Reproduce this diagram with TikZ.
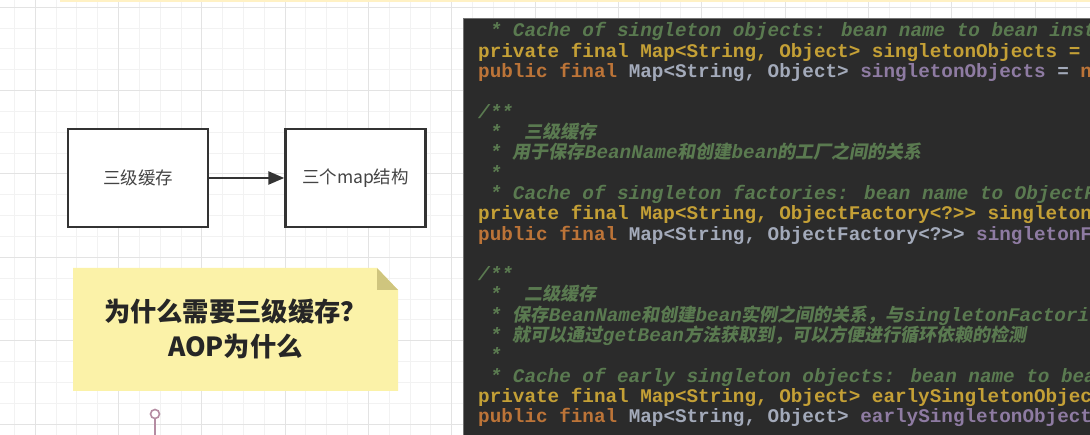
\documentclass[tikz,border=0pt]{standalone}
\usepackage{fontspec}
\usetikzlibrary{arrows.meta}
\newfontfamily\cjk{Noto Sans CJK SC}
\newfontfamily\cjkit[FakeSlant=0.18]{Noto Sans CJK SC}
\newfontfamily\codefont{Liberation Mono}
\newcommand{\zhc}[1]{{\cjkit\fontsize{18}{20}\selectfont #1}}
\definecolor{cbg}{HTML}{2B2B2B}
\definecolor{ccom}{HTML}{5A7A50}
\definecolor{cgold}{HTML}{C4A036}
\definecolor{corange}{HTML}{BC7438}
\definecolor{cplain}{HTML}{A3AABA}
\definecolor{cpurple}{HTML}{8E7BA2}
\definecolor{notefill}{HTML}{FBF2A8}
\definecolor{notefold}{HTML}{CFC57E}
\definecolor{pincol}{HTML}{B48CA2}
\definecolor{boxline}{HTML}{333333}
\definecolor{boxtext}{HTML}{444444}
\definecolor{topstrip}{HTML}{FFF1C4}
\tikzset{
  minorgrid/.style={draw=black!5, line width=0.6pt},
  majorgrid/.style={draw=black!11, line width=0.8pt},
  flowbox/.style={draw=boxline, line width=2.5pt, fill=white, minimum width=140pt, minimum height=98pt, inner sep=0, font=\cjk\fontsize{17.5}{20}\selectfont, text=boxtext},
  codeline/.style={anchor=base west, inner sep=0, font=\codefont\bfseries\fontsize{19.3}{20}\selectfont},
  comline/.style={codeline, text=ccom, font=\codefont\bfseries\itshape\fontsize{19.3}{20}\selectfont},
  privline/.style={codeline, text=cgold},
  notetext/.style={align=center, inner sep=0, font=\cjk\bfseries\fontsize{26.3}{35}\selectfont, text=black!85},
}
\begin{document}
\begin{tikzpicture}[x=1pt,y=-1pt]
\useasboundingbox (0,0) rectangle (1090,435);
\fill[white] (0,0) rectangle (1090,435);
% grid
\foreach \i in {-1,...,52} \draw[minorgrid] ({35+\i*20.83},0) -- ({35+\i*20.83},435);
\foreach \i in {-1,...,21} \draw[minorgrid] (0,{7+\i*20.85}) -- (1090,{7+\i*20.85});
\foreach \i in {0,...,12} \draw[majorgrid] ({35+\i*83.33},0) -- ({35+\i*83.33},435);
\foreach \i in {0,...,5} \draw[majorgrid] (0,{7+\i*83.4}) -- (1090,{7+\i*83.4});
\fill[topstrip] (60,0) rectangle (1090,2.5);

% flow boxes
\node[flowbox] (b1) at (138,178) {三级缓存};
\node[flowbox] (b2) at (355.5,178) {三个map结构};
\draw[boxline, line width=2.5pt, -{Triangle[length=16pt,width=13pt]}] (b1) -- (b2);

% note
\fill[notefill] (73,268) -- (377,268) -- (398,290) -- (398,391) -- (73,391) -- cycle;
\fill[notefold] (377,268) -- (398,290) -- (377,290) -- cycle;
\node[notetext] (note) at (235.5,329) {为什么需要三级缓存？\\AOP为什么};

% pin
\node[circle, draw=pincol, line width=1.6pt, minimum size=9pt, inner sep=0, fill=white] (pin) at (155,414) {};
\coordinate (pinend) at (155,436);
\draw[pincol, line width=1.6pt] (pin.south) -- (pinend);

% code panel
\fill[cbg] (463,18) rectangle (1090,435);
\draw[black!55, line width=1pt] (463.5,435) -- (463.5,18.5) -- (1090,18.5);
\begin{scope}
\clip (464,19) rectangle (1090,435);
\node[comline] (l0) at (478,37) {\ * Cache of singleton objects: bean name to bean inst};
\node[privline] (l1) at (478,57.3) {private final Map<String, Object> singletonObjects = n};
\node[codeline] (l2) at (478,77.6) {\textcolor{corange}{public final} \textcolor{cplain}{Map<String, Object>} \textcolor{cpurple}{singletonObjects} \textcolor{cplain}{=} \textcolor{corange}{n}};
\node[comline] (l4) at (478,118.3) {/**};
\node[comline] (l5) at (478,138.6) {\ * \ \zhc{三级缓存}};
\node[comline] (l6) at (478,158.9) {\ * \zhc{用于保存}BeanName\zhc{和创建}bean\zhc{的工厂之间的关系}};
\node[comline] (l7) at (478,179.2) {\ *};
\node[comline] (l8) at (478,199.5) {\ * Cache of singleton factories: bean name to ObjectF};
\node[privline] (l9) at (478,219.8) {private final Map<String, ObjectFactory<?>> singletonF};
\node[codeline] (l10) at (478,240.1) {\textcolor{corange}{public final} \textcolor{cplain}{Map<String, ObjectFactory<?>>} \textcolor{cpurple}{singletonF}};
\node[comline] (l12) at (478,280.7) {/**};
\node[comline] (l13) at (478,301.0) {\ * \ \zhc{二级缓存}};
\node[comline] (l14) at (478,321.3) {\ * \zhc{保存}BeanName\zhc{和创建}bean\zhc{实例之间的关系，与}singletonFactori};
\node[comline] (l15) at (478,341.6) {\ * \zhc{就可以通过}getBean\zhc{方法获取到，可以方便进行循环依赖的检测}};
\node[comline] (l16) at (478,361.9) {\ *};
\node[comline] (l17) at (478,382.2) {\ * Cache of early singleton objects: bean name to bea};
\node[privline] (l18) at (478,402.5) {private final Map<String, Object> earlySingletonObjec};
\node[codeline] (l19) at (478,422.8) {\textcolor{corange}{public final} \textcolor{cplain}{Map<String, Object>} \textcolor{cpurple}{earlySingletonObject}};
\end{scope}
\end{tikzpicture}
\end{document}
